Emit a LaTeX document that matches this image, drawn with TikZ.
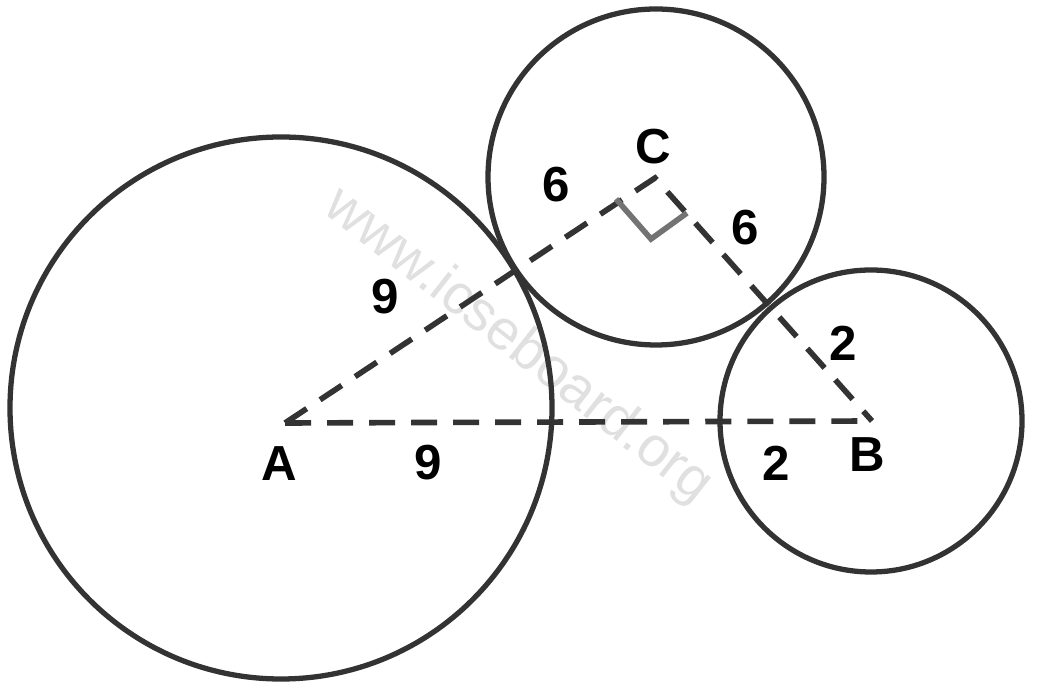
\documentclass[tikz,border=0pt]{standalone}
\usepackage{fontspec}
\setmainfont{Liberation Sans}
\begin{document}
\begin{tikzpicture}[x=0.01cm,y=-0.01cm,
  circ/.style={draw=black!80,line width=1.5pt},
  dsh/.style={draw=black!80,line width=1.6pt,dash pattern=on 0.26cm off 0.16cm},
  lbl/.style={font=\fontsize{14}{14}\selectfont\bfseries,text=black}]
\useasboundingbox (0,0) rectangle (1037,695);
\node[rotate=-38,text=black!12,font=\fontsize{16}{16}\selectfont] (wm) at (518,346) {www.icseboard.org};
\draw[circ] (281,408) circle (271);
\draw[circ] (656,177) circle (168);
\draw[circ] (871,421) circle (151);
\coordinate (A) at (285,423);
\coordinate (B) at (872,421);
\coordinate (C) at (655,178);
\draw[dsh] (A) -- (B);
\draw[dsh] (A) -- (C) -- (B);
\draw[black!55,line width=1.6pt] (616,199) -- (651,239) -- (687,213);
\node[lbl] (lC) at (653,147) {C};
\node[lbl] (lA) at (279,464) {A};
\node[lbl] (lB) at (867,455) {B};
\node[lbl] (n1) at (385,297) {9};
\node[lbl] (n2) at (428,463) {9};
\node[lbl] (n3) at (556,185) {6};
\node[lbl] (n4) at (745,228) {6};
\node[lbl] (n5) at (843,343) {2};
\node[lbl] (n6) at (776,463) {2};
\end{tikzpicture}
\end{document}
